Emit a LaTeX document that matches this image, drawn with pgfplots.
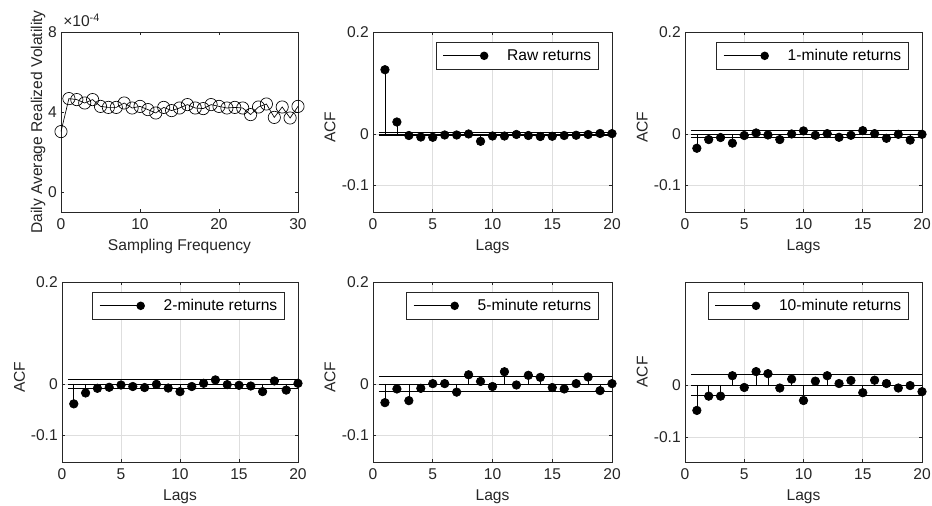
\documentclass[border=0pt]{standalone}
\usepackage{pgfplots}
\pgfplotsset{compat=1.18}
\usepackage{fontspec}
\setmainfont{Liberation Sans}
\definecolor{axisgray}{rgb}{0.15,0.15,0.15}
\definecolor{gridgray}{rgb}{0.87,0.87,0.87}
\newcommand{\fs}{\fontsize{11.7}{14}\selectfont}

\pgfplotsset{
 base/.style={
  scale only axis, height=135pt,
  axis line style={draw=axisgray, line width=0.5pt},
  tick align=inside, major tick length=2.5pt,
  every tick/.style={draw=axisgray, line width=0.5pt},
  ticklabel style={font=\fs, text=axisgray},
  xticklabel style={anchor=base, yshift=-13.5pt, inner sep=0pt},
  yticklabel style={anchor=east, xshift=-3pt, inner sep=0pt},
  every axis x label/.style={at={(axis description cs:0.5,0)}, anchor=base, yshift=-29pt, font=\fs, text=axisgray},
 },
 acf/.style={base,
  xmin=0, xmax=20, ymin=-0.153, ymax=0.2,
  xtick={0,5,10,15,20}, xticklabels={0,5,10,15,20},
  ytick={-0.1,0,0.2}, yticklabels={-0.1,0,0.2},
  grid=major, major grid style={draw=gridgray, line width=0.5pt},
  xlabel={Lags}, ylabel={ACF},
  every axis y label/.style={at={(axis description cs:-0.18,#1)}, anchor=center, rotate=90, font=\fs, text=axisgray},
  legend style={at={(axis description cs:1,1)}, anchor=north east, xshift=-10.3pt, yshift=-7.5pt,
    draw=axisgray, line width=0.5pt, fill=white, font=\fs, text=black,
    inner xsep=5pt, inner ysep=0pt, nodes={inner sep=0pt}, column sep=0pt},
  legend cell align=left,
  legend image code/.code={\draw[black, line width=0.5pt] (0pt,0pt) -- (30.75pt,0pt);
     \fill[black, draw=none] (30.75pt,0pt) circle (3.2pt);
     \path[draw=none, fill=none] (0pt,-10.125pt) rectangle (48pt,10.125pt);},
 },
 acf/.default=0.47,
 stem/.style={black, line width=0.5pt, ycomb, mark=*, mark size=3.2pt, mark options={fill=black, draw=black}},
 band/.style={black, line width=0.5pt, forget plot, no marks},
}

\begin{document}
\begin{tikzpicture}
\path[use as bounding box] (0pt,0pt) rectangle (699pt,379.5pt);

% Panel 1
\begin{axis}[base, name=p1, at={(45.75pt,220.5pt)}, anchor=south west, width=177.75pt,
  xmin=0, xmax=30, ymin=-1, ymax=8,
  xtick={0,10,20,30}, xticklabels={0,10,20,30},
  ytick={0,4,8}, yticklabels={0,4,8},
  xlabel={Sampling Frequency}, ylabel={Daily Average Realized Volatility},
  every axis y label/.style={at={(axis description cs:-0.097,0.5)}, anchor=center, rotate=90, font=\fs, text=axisgray},
]
\addplot[black, line width=0.5pt, mark=o, mark size=4.6pt, mark options={draw=black, fill=none}] coordinates {
(0,3.02) (1,4.67) (2,4.62) (3,4.45) (4,4.62) (5,4.28) (6,4.23) (7,4.23) (8,4.45) (9,4.20)
(10,4.28) (11,4.12) (12,3.95) (13,4.23) (14,4.07) (15,4.20) (16,4.37) (17,4.20) (18,4.17) (19,4.37)
(20,4.28) (21,4.20) (22,4.23) (23,4.20) (24,3.87) (25,4.25) (26,4.40) (27,3.73) (28,4.25) (29,3.70) (30,4.28)};
\end{axis}
\node[anchor=base west, font=\fs, text=axisgray, inner sep=0pt, xshift=1.5pt, yshift=3.75pt] at (p1.north west) {×10\textsuperscript{-4}};

% Panel 2: Raw
\begin{axis}[acf, at={(279.75pt,220.5pt)}, anchor=south west, width=179.25pt]
\addplot[band] coordinates {(0.5,0.003) (20.5,0.003)};
\addplot[band] coordinates {(0.5,-0.003) (20.5,-0.003)};
\addplot[band] coordinates {(0.5,0) (20.5,0)};
\addplot[stem] coordinates {
(1,0.126) (2,0.0235) (3,-0.003) (4,-0.006) (5,-0.0065) (6,-0.002) (7,-0.002) (8,0.0) (9,-0.0144) (10,-0.004)
(11,-0.004) (12,-0.001) (13,-0.003) (14,-0.005) (15,-0.0045) (16,-0.003) (17,-0.0025) (18,-0.001) (19,0.001) (20,0.0007)};
\addlegendentry{Raw returns}
\end{axis}

% Panel 3: 1-minute
\begin{axis}[acf, at={(513.75pt,220.5pt)}, anchor=south west, width=177.75pt]
\addplot[band] coordinates {(0.5,0.0065) (20.5,0.0065)};
\addplot[band] coordinates {(0.5,-0.0065) (20.5,-0.0065)};
\addplot[band] coordinates {(0.5,0) (20.5,0)};
\addplot[stem] coordinates {
(1,-0.028) (2,-0.011) (3,-0.007) (4,-0.018) (5,-0.003) (6,0.002) (7,-0.002) (8,-0.011) (9,0.0) (10,0.006)
(11,-0.0026) (12,0.0007) (13,-0.0065) (14,-0.0026) (15,0.0065) (16,0.0007) (17,-0.0085) (18,-0.0007) (19,-0.012) (20,-0.0007)};
\addlegendentry{1-minute returns}
\end{axis}

% Panel 4: 2-minute
\begin{axis}[acf, at={(46.5pt,33pt)}, anchor=south west, width=177pt]
\addplot[band] coordinates {(0.5,0.009) (20.5,0.009)};
\addplot[band] coordinates {(0.5,-0.009) (20.5,-0.009)};
\addplot[band] coordinates {(0.5,0) (20.5,0)};
\addplot[stem] coordinates {
(1,-0.039) (2,-0.0176) (3,-0.0085) (4,-0.0065) (5,-0.002) (6,-0.005) (7,-0.007) (8,-0.0007) (9,-0.008) (10,-0.015)
(11,-0.005) (12,0.0013) (13,0.008) (14,-0.0013) (15,-0.0026) (16,-0.004) (17,-0.015) (18,0.006) (19,-0.012) (20,0.0013)};
\addlegendentry{2-minute returns}
\end{axis}

% Panel 5: 5-minute
\begin{axis}[acf, at={(279.75pt,33pt)}, anchor=south west, width=179.25pt]
\addplot[band] coordinates {(0.5,0.0143) (20.5,0.0143)};
\addplot[band] coordinates {(0.5,-0.0143) (20.5,-0.0143)};
\addplot[band] coordinates {(0.5,0) (20.5,0)};
\addplot[stem] coordinates {
(1,-0.0366) (2,-0.0098) (3,-0.0327) (4,-0.0085) (5,0.0007) (6,0.0007) (7,-0.016) (8,0.018) (9,0.005) (10,-0.005)
(11,0.024) (12,-0.002) (13,0.017) (14,0.013) (15,-0.007) (16,-0.0098) (17,0.0007) (18,0.0137) (19,-0.013) (20,0.0007)};
\addlegendentry{5-minute returns}
\end{axis}

% Panel 6: 10-minute
\begin{axis}[acf=0.5, at={(513.75pt,33pt)}, anchor=south west, width=177.75pt, ymin=-0.148, ymax=0.1975]
\addplot[band] coordinates {(0.5,0.0198) (20.5,0.0198)};
\addplot[band] coordinates {(0.5,-0.0198) (20.5,-0.0198)};
\addplot[band] coordinates {(0.5,0) (20.5,0)};
\addplot[stem] coordinates {
(1,-0.049) (2,-0.0216) (3,-0.0216) (4,0.0176) (5,-0.005) (6,0.0255) (7,0.0216) (8,-0.006) (9,0.011) (10,-0.030)
(11,0.0072) (12,0.0176) (13,0.0026) (14,0.0085) (15,-0.015) (16,0.009) (17,0.0026) (18,-0.006) (19,-0.0013) (20,-0.013)};
\addlegendentry{10-minute returns}
\end{axis}
\end{tikzpicture}
\end{document}
